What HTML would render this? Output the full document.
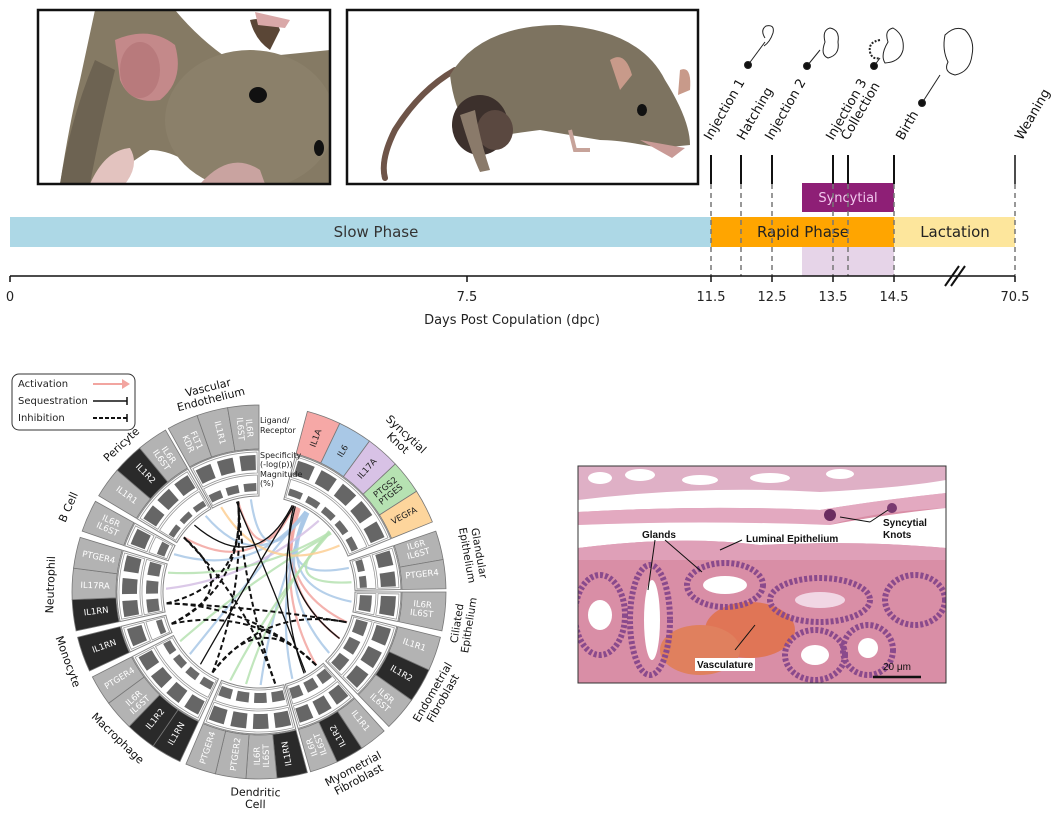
<!DOCTYPE html>
<html><head><meta charset="utf-8">
<style>
html,body{margin:0;padding:0;background:#fff;}
svg{display:block;font-family:"DejaVu Sans","Liberation Sans",sans-serif;}
</style></head>
<body>
<svg id="s" width="1053" height="816" viewBox="0 0 1053 816" xmlns="http://www.w3.org/2000/svg">
<rect width="1053" height="816" fill="#fff"/>

<!-- Photo 1 -->
<g>
<clipPath id="c1"><rect x="38" y="10" width="292" height="174"/></clipPath>
<g clip-path="url(#c1)">
<rect x="38" y="10" width="292" height="174" fill="#fff"/>
<path d="M95 10 L175 10 Q200 40 230 60 L330 50 L330 184 L215 184 Q180 150 150 150 Q120 170 100 184 L60 184 Q70 120 80 80 Z" fill="#857a64"/>
<path d="M60 184 Q70 120 95 60 L115 70 Q100 130 90 184Z" fill="#6d6352"/>
<path d="M115 40 Q150 25 175 45 Q185 80 160 100 Q130 105 120 80Z" fill="#c4898a"/>
<ellipse cx="140" cy="70" rx="20" ry="28" fill="#b87a7c"/>
<ellipse cx="250" cy="120" rx="85" ry="70" fill="#8b806a"/>
<path d="M200 184 Q230 150 260 170 L265 184Z" fill="#c9a3a0"/>
<ellipse cx="258" cy="95" rx="9" ry="8" fill="#111"/>
<ellipse cx="319" cy="148" rx="5" ry="8" fill="#111"/>
<path d="M250 20 Q275 15 280 30 L270 50 Q255 40 250 20Z" fill="#5a4636"/>
<path d="M255 12 L290 20 L285 28 L258 25Z" fill="#d9a8a8"/>
<path d="M90 184 Q105 150 130 148 Q140 165 125 184Z" fill="#e3c3bf"/>
</g>
<rect x="38" y="10" width="292" height="174" fill="none" stroke="#111" stroke-width="2.5"/>
</g>

<!-- Photo 2 -->
<g>
<clipPath id="c2"><rect x="347" y="10" width="351" height="174"/></clipPath>
<g clip-path="url(#c2)">
<rect x="347" y="10" width="351" height="174" fill="#fff"/>
<path d="M455 70 Q420 90 395 130 Q380 160 385 178" fill="none" stroke="#6e5448" stroke-width="6" stroke-linecap="round"/>
<path d="M450 75 Q480 25 560 25 Q640 30 665 80 Q690 120 690 145 L660 148 Q620 140 600 140 L540 130 Q500 135 480 140 Q455 120 450 75Z" fill="#7d7360"/>
<ellipse cx="480" cy="125" rx="28" ry="30" fill="#3c302c"/>
<ellipse cx="495" cy="130" rx="18" ry="20" fill="#5a4840"/>
<path d="M460 115 Q470 150 480 172 L490 170 Q480 140 475 110Z" fill="#8a7a6a"/>
<path d="M610 60 Q625 50 632 75 L620 90Z" fill="#c89a8a"/>
<path d="M680 70 Q692 65 690 90 L678 95Z" fill="#c89a8a"/>
<ellipse cx="642" cy="110" rx="5" ry="6" fill="#111"/>
<path d="M640 140 L685 148 L672 158Z" fill="#c99a96"/>
<path d="M570 130 L575 150 L590 150" fill="none" stroke="#c7a39a" stroke-width="4"/>
</g>
<rect x="347" y="10" width="351" height="174" fill="none" stroke="#111" stroke-width="2.5"/>
</g>

<!-- Timeline bars -->
<rect x="10" y="217" width="701" height="30" fill="#add8e6"/>
<rect x="711" y="217" width="183" height="30" fill="#ffa500"/>
<rect x="894" y="217" width="121" height="30" fill="#fde69c"/>
<rect x="802" y="183" width="92" height="29" fill="#8e1f76"/>
<rect x="802" y="247" width="92" height="29" fill="#e6d4e8"/>
<text x="376" y="237" font-size="15" text-anchor="middle" fill="#333">Slow Phase</text>
<text x="803" y="237" font-size="15" text-anchor="middle" fill="#222">Rapid Phase</text>
<text x="955" y="237" font-size="15" text-anchor="middle" fill="#222">Lactation</text>
<text x="848" y="202" font-size="13" text-anchor="middle" fill="#f2c8ee">Syncytial</text>

<!-- event lines -->
<g stroke="#111" stroke-width="2">
<line x1="711" y1="155" x2="711" y2="184"/><line x1="741" y1="155" x2="741" y2="184"/>
<line x1="772" y1="155" x2="772" y2="184"/><line x1="833" y1="155" x2="833" y2="184"/>
<line x1="848" y1="155" x2="848" y2="184"/><line x1="894" y1="155" x2="894" y2="184"/>
<line x1="1015" y1="155" x2="1015" y2="184" stroke-width="1.5"/>
</g>
<g stroke="#777" stroke-width="1.5" stroke-dasharray="5 4">
<line x1="711" y1="184" x2="711" y2="276"/><line x1="741" y1="184" x2="741" y2="276"/>
<line x1="772" y1="184" x2="772" y2="276"/><line x1="833" y1="184" x2="833" y2="276"/>
<line x1="848" y1="184" x2="848" y2="276"/><line x1="894" y1="184" x2="894" y2="276"/>
<line x1="1015" y1="184" x2="1015" y2="276"/>
</g>
<g font-size="13" fill="#111">
<text transform="translate(711 141) rotate(-60)">Injection 1</text>
<text transform="translate(744 141) rotate(-60)">Hatching</text>
<text transform="translate(772 141) rotate(-60)">Injection 2</text>
<text transform="translate(833 141) rotate(-60)">Injection 3</text>
<text transform="translate(848 141) rotate(-60)">Collection</text>
<text transform="translate(903 141) rotate(-60)">Birth</text>
<text transform="translate(1022 141) rotate(-60)">Weaning</text>
</g>
<!-- embryo icons -->
<g fill="none" stroke="#222" stroke-width="1">
<line x1="748" y1="65" x2="765" y2="42"/><circle cx="748" cy="65" r="3.5" fill="#111"/>
<path d="M765 38 Q760 30 766 26 Q775 24 773 33 Q770 42 764 46"/>
<line x1="807" y1="66" x2="820" y2="50"/><circle cx="807" cy="66" r="3.5" fill="#111"/>
<path d="M830 28 Q822 30 825 42 Q820 55 828 58 Q840 55 838 42 Q840 30 830 28Z"/>
<line x1="874" y1="66" x2="880" y2="58"/><circle cx="874" cy="66" r="3.5" fill="#111"/>
<path d="M893 28 Q884 30 888 42 Q880 55 885 63 Q900 62 903 50 Q905 35 893 28Z"/>
<path d="M880 40 Q868 42 870 52 Q872 60 880 58" stroke-dasharray="2 1.5" stroke-width="2"/>
<line x1="922" y1="103" x2="940" y2="75"/><circle cx="922" cy="103" r="3.5" fill="#111"/>
<path d="M945 35 Q955 25 965 30 Q975 40 972 55 Q970 72 955 75 Q943 72 948 62 Q942 50 945 35Z"/>
</g>

<!-- axis -->
<line x1="10" y1="276" x2="1015" y2="276" stroke="#111" stroke-width="1.5"/>
<g stroke="#111" stroke-width="1.5">
<line x1="10" y1="276" x2="10" y2="282"/><line x1="467" y1="276" x2="467" y2="282"/>
<line x1="711" y1="276" x2="711" y2="282"/><line x1="772" y1="276" x2="772" y2="282"/>
<line x1="833" y1="276" x2="833" y2="282"/><line x1="894" y1="276" x2="894" y2="282"/>
<line x1="1015" y1="276" x2="1015" y2="282"/>
<line x1="945" y1="286" x2="959" y2="266" stroke-width="2"/><line x1="951" y1="286" x2="965" y2="266" stroke-width="2"/>
</g>
<g font-size="13" fill="#222" text-anchor="middle">
<text x="10" y="301">0</text><text x="467" y="301">7.5</text><text x="711" y="301">11.5</text>
<text x="772" y="301">12.5</text><text x="833" y="301">13.5</text><text x="894" y="301">14.5</text>
<text x="1015" y="301">70.5</text>
<text x="512" y="324">Days Post Copulation (dpc)</text>
</g>

<!-- Histology -->
<g>
<clipPath id="c3"><rect x="578" y="466" width="368" height="217"/></clipPath>
<g clip-path="url(#c3)">
<rect x="578" y="466" width="368" height="217" fill="#d98ea6"/>
<rect x="578" y="466" width="368" height="40" fill="#dfb0c6"/>
<g fill="#fff"><ellipse cx="600" cy="478" rx="12" ry="6"/><ellipse cx="640" cy="475" rx="15" ry="6"/><ellipse cx="700" cy="480" rx="18" ry="5"/><ellipse cx="770" cy="478" rx="20" ry="5"/><ellipse cx="840" cy="474" rx="14" ry="5"/></g>
<path d="M578 500 Q700 485 820 492 Q900 488 946 480 L946 493 Q880 500 820 510 Q700 505 578 512Z" fill="#fff"/>
<path d="M578 512 Q700 505 820 510 Q880 500 946 493 L946 508 Q870 512 830 525 Q700 520 578 525Z" fill="#e3a9c0"/>
<path d="M578 525 Q700 520 830 525 Q880 515 946 508 L946 548 Q860 540 760 545 Q680 535 578 548Z" fill="#fff"/>
<circle cx="830" cy="515" r="6" fill="#6a2c60"/><circle cx="892" cy="508" r="5" fill="#7a3a70"/>
<path d="M578 548 Q680 535 760 545 Q860 540 946 548 L946 560 L578 560Z" fill="#dfa0b8"/>
<ellipse cx="750" cy="630" rx="45" ry="28" fill="#e07556"/>
<ellipse cx="700" cy="650" rx="40" ry="25" fill="#e0805e"/>
<g fill="none" stroke="#8a4a8c" stroke-width="6" stroke-dasharray="3 2">
<ellipse cx="725" cy="585" rx="38" ry="22"/><ellipse cx="650" cy="620" rx="20" ry="55"/>
<ellipse cx="600" cy="615" rx="25" ry="40"/><ellipse cx="820" cy="600" rx="50" ry="22"/>
<ellipse cx="815" cy="655" rx="30" ry="25"/><ellipse cx="868" cy="650" rx="25" ry="25"/>
<ellipse cx="915" cy="600" rx="30" ry="25"/>
</g>
<g fill="#fff"><ellipse cx="725" cy="585" rx="22" ry="9"/><ellipse cx="652" cy="620" rx="8" ry="40"/><ellipse cx="600" cy="615" rx="12" ry="15"/><ellipse cx="820" cy="600" rx="25" ry="8" fill="#f1d6e4"/><ellipse cx="815" cy="655" rx="14" ry="10"/><ellipse cx="868" cy="648" rx="10" ry="10"/></g>
</g>
<rect x="578" y="466" width="368" height="217" fill="none" stroke="#333" stroke-width="1"/>
<g stroke="#111" stroke-width="1" fill="none">
<path d="M870 522 L840 517"/><path d="M870 522 L888 510"/>
<path d="M655 540 L648 590"/><path d="M665 540 L702 572"/>
<path d="M742 540 L720 550"/><path d="M735 650 L755 625"/>
</g>
<g font-size="10" font-weight="bold" fill="#111" font-family="Liberation Sans, sans-serif">
<text x="642" y="538">Glands</text>
<text x="746" y="542">Luminal Epithelium</text>
<text x="883" y="526">Syncytial</text><text x="883" y="538">Knots</text>
<rect x="695" y="658" width="60" height="13" fill="#fff" stroke="none"/>
<text x="697" y="668">Vasculature</text>
<text x="883" y="670" font-weight="normal">20 μm</text>
</g>
<line x1="873" y1="677" x2="921" y2="677" stroke="#111" stroke-width="2.5"/>
</g>

<g transform="translate(4 0)">
<!-- Circle diagram (shapes by script) -->
<g id="circ"></g>

<!-- Wedge labels -->
<g id="wl" font-size="8.5" text-anchor="middle" dominant-baseline="central" fill="#fff">
<text transform="rotate(336 255 592) rotate(90 255 428)" x="255" y="428"><tspan x="255" dy="-4">FLT1</tspan><tspan x="255" dy="9">KDR</tspan></text>
<text transform="rotate(346 255 592) rotate(90 255 428)" x="255" y="428">IL1R1</text>
<text transform="rotate(355 255 592) rotate(90 255 428)" x="255" y="428"><tspan x="255" dy="-4">IL6R</tspan><tspan x="255" dy="9">IL6ST</tspan></text>
<text transform="rotate(20.5 255 592) rotate(-90 255 428)" x="255" y="428" fill="#222">IL1A</text>
<text transform="rotate(31 255 592) rotate(-90 255 428)" x="255" y="428" fill="#222">IL6</text>
<text transform="rotate(41.5 255 592) rotate(-90 255 428)" x="255" y="428" fill="#222">IL17A</text>
<text transform="rotate(52 255 592) rotate(-90 255 428)" x="255" y="428" fill="#222"><tspan x="255" dy="-4">PTGS2</tspan><tspan x="255" dy="9">PTGES</tspan></text>
<text transform="rotate(62.5 255 592) rotate(-90 255 428)" x="255" y="428" fill="#222">VEGFA</text>
<text transform="rotate(75 255 592) rotate(-90 255 428)" x="255" y="428"><tspan x="255" dy="-4">IL6R</tspan><tspan x="255" dy="9">IL6ST</tspan></text>
<text transform="rotate(84 255 592) rotate(-90 255 428)" x="255" y="428">PTGER4</text>
<text transform="rotate(96 255 592) rotate(-90 255 428)" x="255" y="428"><tspan x="255" dy="-4">IL6R</tspan><tspan x="255" dy="9">IL6ST</tspan></text>
<text transform="rotate(109 255 592) rotate(-90 255 428)" x="255" y="428">IL1R1</text>
<text transform="rotate(120 255 592) rotate(-90 255 428)" x="255" y="428">IL1R2</text>
<text transform="rotate(131 255 592) rotate(-90 255 428)" x="255" y="428"><tspan x="255" dy="-4">IL6R</tspan><tspan x="255" dy="9">IL6ST</tspan></text>
<text transform="rotate(142 255 592) rotate(-90 255 428)" x="255" y="428">IL1R1</text>
<text transform="rotate(151 255 592) rotate(90 255 428)" x="255" y="428">IL1R2</text>
<text transform="rotate(159.5 255 592) rotate(90 255 428)" x="255" y="428"><tspan x="255" dy="-4">IL6R</tspan><tspan x="255" dy="9">IL6ST</tspan></text>
<text transform="rotate(170 255 592) rotate(90 255 428)" x="255" y="428">IL1RN</text>
<text transform="rotate(179 255 592) rotate(90 255 428)" x="255" y="428"><tspan x="255" dy="-4">IL6R</tspan><tspan x="255" dy="9">IL6ST</tspan></text>
<text transform="rotate(188 255 592) rotate(90 255 428)" x="255" y="428">PTGER2</text>
<text transform="rotate(198 255 592) rotate(90 255 428)" x="255" y="428">PTGER4</text>
<text transform="rotate(210 255 592) rotate(90 255 428)" x="255" y="428">IL1RN</text>
<text transform="rotate(219 255 592) rotate(90 255 428)" x="255" y="428">IL1R2</text>
<text transform="rotate(228 255 592) rotate(90 255 428)" x="255" y="428"><tspan x="255" dy="-4">IL6R</tspan><tspan x="255" dy="9">IL6ST</tspan></text>
<text transform="rotate(238 255 592) rotate(90 255 428)" x="255" y="428">PTGER4</text>
<text transform="rotate(250.5 255 592) rotate(90 255 428)" x="255" y="428">IL1RN</text>
<text transform="rotate(263 255 592) rotate(90 255 428)" x="255" y="428">IL1RN</text>
<text transform="rotate(272 255 592) rotate(90 255 428)" x="255" y="428">IL17RA</text>
<text transform="rotate(282 255 592) rotate(90 255 428)" x="255" y="428">PTGER4</text>
<text transform="rotate(294 255 592) rotate(90 255 428)" x="255" y="428"><tspan x="255" dy="-4">IL6R</tspan><tspan x="255" dy="9">IL6ST</tspan></text>
<text transform="rotate(306 255 592) rotate(90 255 428)" x="255" y="428">IL1R1</text>
<text transform="rotate(316 255 592) rotate(90 255 428)" x="255" y="428">IL1R2</text>
<text transform="rotate(325 255 592) rotate(90 255 428)" x="255" y="428"><tspan x="255" dy="-4">IL6R</tspan><tspan x="255" dy="9">IL6ST</tspan></text>
</g>

<!-- Group labels -->
<g font-size="11" text-anchor="middle" fill="#111">
<text transform="rotate(346 255 592)" x="255" y="385"><tspan x="255" dy="0">Vascular</tspan><tspan x="255" dy="12">Endothelium</tspan></text>
<text transform="rotate(43 255 592)" x="255" y="380"><tspan x="255" dy="0">Syncytial</tspan><tspan x="255" dy="12">Knot</tspan></text>
<text transform="rotate(80 255 592)" x="255" y="372" font-size="10.5"><tspan x="255" dy="0">Glandular</tspan><tspan x="255" dy="12">Epithelium</tspan></text>
<text transform="rotate(-81 255 592)" x="255" y="796" font-size="10.5"><tspan x="255" dy="0">Ciliated</tspan><tspan x="255" dy="12">Epithelium</tspan></text>
<text transform="rotate(-60 255 592)" x="255" y="796"><tspan x="255" dy="0">Endometrial</tspan><tspan x="255" dy="12">Fibroblast</tspan></text>
<text transform="rotate(-28 255 592)" x="255" y="796"><tspan x="255" dy="0">Myometrial</tspan><tspan x="255" dy="12">Fibroblast</tspan></text>
<text transform="rotate(1 255 592)" x="255" y="796"><tspan x="255" dy="0">Dendritic</tspan><tspan x="255" dy="12">Cell</tspan></text>
<text transform="rotate(44 255 592)" x="255" y="799">Macrophage</text>
<text transform="rotate(70 255 592)" x="255" y="799">Monocyte</text>
<text transform="rotate(272 255 592)" x="255" y="387">Neutrophil</text>
<text transform="rotate(294 255 592)" x="255" y="387">B Cell</text>
<text transform="rotate(317 255 592)" x="255" y="394">Pericyte</text>
</g>
</g>

<!-- Legend -->
<rect x="12" y="374" width="123" height="56" rx="7" fill="#fff" stroke="#333" stroke-width="1"/>
<g font-size="10" fill="#222">
<text x="18" y="387">Activation</text><text x="18" y="404">Sequestration</text><text x="18" y="421">Inhibition</text>
</g>
<line x1="93" y1="384" x2="124" y2="384" stroke="#f2a5a0" stroke-width="2"/>
<path d="M122 379 L130 384 L122 389Z" fill="#f2a5a0"/>
<line x1="93" y1="401" x2="127" y2="401" stroke="#111" stroke-width="1.5"/><line x1="127" y1="397" x2="127" y2="405" stroke="#111" stroke-width="1.5"/>
<line x1="93" y1="418" x2="127" y2="418" stroke="#111" stroke-width="2" stroke-dasharray="4 2"/><line x1="127" y1="414" x2="127" y2="422" stroke="#111" stroke-width="1.5"/>

<g font-size="8" fill="#222">
<text x="260" y="423">Ligand/</text><text x="260" y="433">Receptor</text>
<text x="260" y="458">Specificity</text><text x="260" y="467">(-log(p))</text>
<text x="260" y="477">Magnitude</text><text x="260" y="486">(%)</text>
</g>
</svg>
<script>
(function(){
var NS="http://www.w3.org/2000/svg",cx=255,cy=592,g=document.getElementById("circ");
function pt(a,r){var t=(a-90)*Math.PI/180;return [cx+r*Math.cos(t),cy+r*Math.sin(t)];}
function arc(a1,a2,r1,r2){var l=(a2-a1)>180?1:0,p1=pt(a1,r2),p2=pt(a2,r2),p3=pt(a2,r1),p4=pt(a1,r1);
return "M"+p1+" A"+r2+" "+r2+" 0 "+l+" 1 "+p2+" L"+p3+" A"+r1+" "+r1+" 0 "+l+" 0 "+p4+"Z";}
function add(tag,at){var e=document.createElementNS(NS,tag);for(var k in at)e.setAttribute(k,at[k]);g.appendChild(e);return e;}
var L="#b3b3b3",D="#2a2a2a";
var groups=[[331,360,[L,L,L]],[15,68,["#f6a8a6","#a9c8e6","#d8c2e6","#b6e2b2","#fdd59c"]],[71,89,[L,L]],[90,102,[L]],
[104,136,[L,D,L]],[138,164,[L,D,L]],[165,203,[D,L,L,L]],[205,243,[D,D,L,L]],[245,256,[D]],[258,287,[D,L,L]],[289,299,[L]],[301,330,[L,D,L]]];
groups.forEach(function(gr){var a=gr[0],b=gr[1],n=gr[2].length,w=(b-a)/n;
 gr[2].forEach(function(c,i){add("path",{d:arc(a+i*w,a+(i+1)*w,143,187),fill:c,stroke:"#777","stroke-width":0.8});});
 add("path",{d:arc(a,b,96,142),fill:"#fff",stroke:"#888","stroke-width":1});
 add("path",{d:arc(a+0.8,b-0.8,119,140),fill:"#fff",stroke:"#999","stroke-width":0.8});
 add("path",{d:arc(a+0.8,b-0.8,98,117),fill:"#fff",stroke:"#999","stroke-width":0.8});
 for(var i=0;i<n;i++){var s=a+i*w,pad=Math.min(1.8,w*0.15);
  add("path",{d:arc(s+pad,s+w-pad,122,137),fill:"#666"});
  var h=6+((i*7+a)%7);add("path",{d:arc(s+pad,s+w-pad,101,101+h),fill:"#6a6a6a"});}
});
var P="#f2a5a0",B="#a9c8e6",U="#d5bfe4",G="#b6e2b2",O="#fdcf94",K="#111";
var ch=[[22,347,P,0],[22,306,P,0],[24,109,P,0],[26,142,P,0],[25,120,P,0],
[30,355,B,0],[30,294,B,0],[31,75,B,0],[32,96,B,0],[30,131,B,0],[31,159,B,0],[32,179,B,0],[30,228,B,0],[31,325,B,0],
[40,272,U,0],[50,84,G,0],[50,282,G,0],[49,188,G,0],[50,198,G,0],[51,238,G,0],[60,336,O,0],
[21,316,K,1],[22,120,K,1],[23,151,K,1],[22,219,K,1],[346,150,K,1],
[263,109,K,2],[263,347,K,2],[250,142,K,2],[250,306,K,2],[210,347,K,2],[210,109,K,2],[170,347,K,2],[170,306,K,2],[263,142,K,2],[210,142,K,2],[250,347,K,2]];
ch.forEach(function(c){var p1=pt(c[0],93),p2=pt(c[1],93),m=(c[0]+c[1])/2;if(Math.abs(c[1]-c[0])>180)m+=180;
 var q=pt(m,15);var at={d:"M"+p1+" Q"+q+" "+p2,fill:"none",stroke:c[2],"stroke-width":c[3]==2?2:(c[3]==1?1.3:2.2),opacity:c[3]?1:0.85};
 if(c[3]==2)at["stroke-dasharray"]="5 3";add("path",at);});
})();
</script>
</body></html>
